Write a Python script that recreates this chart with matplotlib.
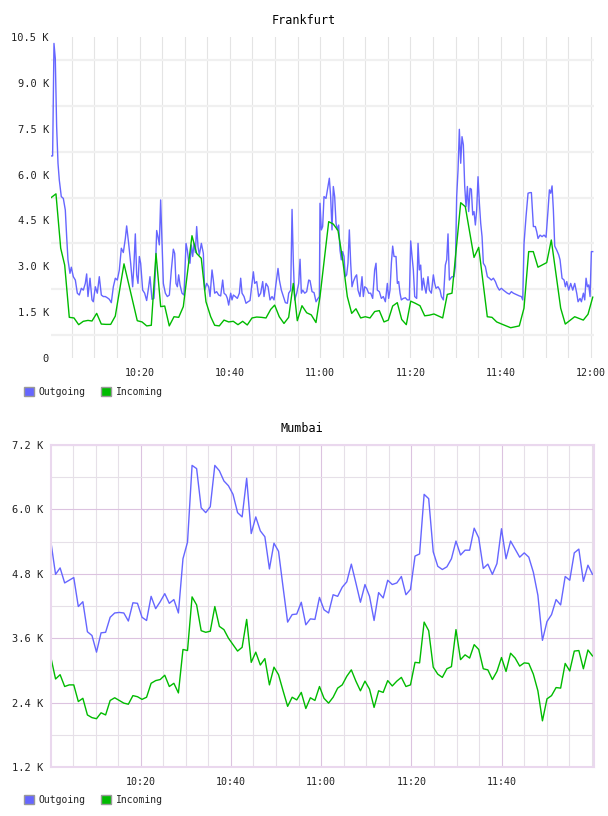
import numpy as np
import matplotlib
matplotlib.use('Agg')
import matplotlib.pyplot as plt
from matplotlib.patches import Patch
from matplotlib.ticker import FixedLocator, FuncFormatter, MultipleLocator

plt.rcParams['font.family'] = ['DejaVu Sans Mono']

# time axis: minutes after 10:00, values in K

# Frankfurt - outgoing
fra_out_t = [
    0.45, 0.74, 1.04, 1.33, 1.63, 1.93, 2.22, 2.66, 3.11, 3.55, 3.85, 4.14, 4.58, 4.88, 5.32,
    5.77, 6.21, 6.65, 7.10, 7.54, 7.98, 8.28, 8.57, 9.02, 9.46, 9.75, 10.20, 10.64, 11.08,
    11.53, 11.97, 12.41, 12.86, 13.30, 13.74, 14.19, 14.63, 15.07, 15.52, 15.96, 16.40, 16.85,
    17.14, 17.58, 18.03, 18.47, 18.77, 19.06, 19.36, 19.65, 19.95, 20.24, 20.69, 21.13, 21.57,
    22.02, 22.31, 22.75, 23.20, 23.49, 23.79, 24.08, 24.38, 24.67, 24.97, 25.27, 25.71, 26.15,
    26.60, 27.04, 27.48, 27.78, 28.07, 28.37, 28.66, 28.96, 29.40, 29.84, 30.29, 30.58, 30.88,
    31.17, 31.47, 31.77, 32.06, 32.36, 32.65, 32.95, 33.24, 33.69, 34.13, 34.42, 34.87, 35.31,
    35.61, 36.05, 36.34, 36.64, 37.08, 37.53, 37.97, 38.41, 38.71, 39.15, 39.45, 39.74, 40.19,
    40.48, 40.78, 41.22, 41.66, 42.11, 42.40, 42.70, 43.14, 43.58, 44.03, 44.47, 44.91, 45.21,
    45.50, 45.95, 46.39, 46.83, 47.28, 47.57, 48.01, 48.46, 48.90, 49.34, 49.79, 50.23, 50.67,
    50.97, 51.41, 51.86, 52.30, 52.74, 53.04, 53.48, 53.78, 54.07, 54.37, 54.81, 55.25, 55.55,
    55.84, 56.14, 56.58, 57.02, 57.47, 57.76, 58.21, 58.65, 59.09, 59.54, 59.83,
    59.97, 60.27, 60.56, 60.86, 61.30, 61.74, 62.04, 62.33, 62.63, 62.92, 63.22, 63.52, 63.81,
    64.11, 64.40, 64.70, 64.99, 65.29, 65.58, 65.88, 66.17, 66.47, 66.77, 67.06, 67.36, 67.80,
    68.09, 68.39, 68.83, 69.28, 69.57, 69.87, 70.31, 70.75, 71.20, 71.64, 72.08, 72.38, 72.67,
    73.12, 73.56, 74.00, 74.45, 74.89, 75.18, 75.48, 75.78, 76.07, 76.37, 76.81, 77.11, 77.40,
    77.70, 77.99, 78.44, 78.88, 79.32, 79.76, 80.06, 80.36, 80.65, 80.95, 81.39, 81.69, 81.98,
    82.28, 82.57, 82.87, 83.16, 83.46, 83.90, 84.20, 84.64, 85.08, 85.38, 85.67, 86.12, 86.56,
    86.86, 87.30, 87.74, 88.04, 88.33, 88.63, 88.92, 89.22, 89.66, 89.96, 90.25, 90.55, 90.84,
    91.14, 91.43, 91.73, 92.03, 92.32, 92.62, 92.91, 93.21, 93.50, 93.80, 94.09, 94.39, 94.68,
    94.98, 95.28, 95.57, 95.87, 96.16, 96.60, 97.05, 97.49, 97.93, 98.38, 98.82, 99.26, 99.71,
    100.15, 100.59, 101.04, 101.48, 101.92, 102.37, 102.81, 103.25, 103.70, 104.14, 104.58,
    104.88, 105.17, 105.61, 106.06, 106.50, 106.80, 107.24, 107.68, 107.98, 108.27, 108.72,
    109.16, 109.60, 110.05, 110.49, 110.79, 111.08, 111.38, 111.67, 111.97, 112.41, 112.86,
    113.15, 113.59, 114.04, 114.33, 114.63, 115.07, 115.51, 115.96, 116.40, 116.84, 117.14,
    117.58, 117.88, 118.32, 118.62, 118.91, 119.21, 119.50, 119.80, 120.09, 120.39,
]
fra_out = [
    6.61, 6.61, 10.29, 9.80, 7.57, 6.37, 5.82, 5.28, 5.22, 4.84, 3.97, 3.21, 2.77, 2.97, 2.66,
    2.55, 2.12, 2.06, 2.28, 2.22, 2.44, 2.75, 2.01, 2.61, 1.90, 1.84, 2.33, 2.12, 2.66,
    2.06, 2.01, 2.01, 1.97, 1.92, 1.81, 2.33, 2.61, 2.55, 2.88, 3.59, 3.45, 3.91,
    4.32, 3.75, 3.10, 2.33, 3.10, 4.06, 2.72, 2.44, 3.32, 3.10, 2.22, 2.12, 1.88,
    2.33, 2.66, 1.92, 1.95, 2.77, 4.17, 3.97, 3.70, 5.17, 3.75, 2.44, 2.12, 2.01,
    2.06, 2.88, 3.56, 3.42, 2.44, 2.33, 2.72, 2.39, 2.12, 2.06, 3.75, 3.53, 3.15,
    3.10, 3.70, 3.32, 3.75, 3.45, 4.30, 3.64, 3.37, 3.75, 3.42, 2.22, 2.44, 2.33,
    2.01, 2.88, 2.55, 2.12, 2.17, 2.06, 2.03, 2.55, 2.12, 2.06, 1.95, 1.73, 2.12,
    1.90, 2.06, 2.01, 1.95, 2.12, 2.61, 2.12, 2.01, 1.79, 1.84, 1.88, 2.44, 2.82,
    2.44, 2.50, 2.01, 2.12, 2.50, 2.01, 2.44, 2.33, 1.90, 2.01, 1.90, 2.44, 2.93,
    2.55, 2.22, 2.01, 1.81, 1.79, 2.12, 2.22, 4.86, 3.10, 1.90, 2.12, 2.44, 3.23,
    2.12, 2.22, 2.12, 2.17, 2.55, 2.53, 2.17, 2.14, 1.84, 1.95, 2.01,
    5.06, 4.19, 4.30, 5.28, 5.22, 5.61, 5.88, 5.28, 4.19, 5.61, 5.28, 4.41, 4.19,
    4.35, 3.53, 3.21, 3.48, 3.32, 2.66, 2.72, 3.10, 4.19, 3.10, 2.33, 2.50, 2.66,
    2.72, 2.22, 2.01, 2.66, 2.01, 2.33, 2.28, 2.12, 2.12, 1.95, 2.88, 3.10, 2.22,
    2.17, 1.95, 2.01, 1.84, 2.44, 1.95, 2.22, 3.10, 3.66, 3.32, 3.32, 2.44, 2.50,
    2.12, 1.90, 1.95, 1.97, 1.90, 1.90, 3.83, 3.32, 2.88, 2.01, 1.95, 3.75, 2.88,
    3.04, 2.22, 2.61, 2.33, 2.12, 2.66, 2.22, 2.12, 2.72, 2.44, 2.28, 2.33, 2.22,
    2.01, 1.90, 3.04, 3.21, 4.06, 2.55, 2.61, 2.66, 2.66, 2.99, 5.28, 6.15, 7.48,
    6.37, 7.24, 6.97, 5.61, 4.95, 5.61, 4.79, 5.55, 5.52, 4.68, 4.79, 4.35, 4.84,
    5.93, 5.06, 4.41, 3.97, 3.10, 2.99, 2.66, 2.61, 2.55, 2.61, 2.50, 2.33, 2.22,
    2.28, 2.22, 2.17, 2.12, 2.09, 2.17, 2.12, 2.09, 2.06, 2.03, 2.01,
    1.90, 3.75, 4.62, 5.39, 5.41, 5.41, 4.30, 4.30, 4.13, 3.91, 4.02,
    3.97, 4.02, 3.95, 4.84, 5.50, 5.39, 5.63, 4.84, 3.66, 3.53, 3.37,
    3.21, 2.61, 2.55, 2.33, 2.50, 2.22, 2.44, 2.22, 2.44, 2.12, 1.84,
    1.95, 1.84, 2.12, 1.90, 2.61, 2.33, 2.39, 2.01, 3.48, 3.48,
]

# Frankfurt - incoming
fra_in_t = [
    0.44, 1.48, 2.53, 3.41, 4.43, 5.47, 6.51, 7.53, 8.57, 9.46, 10.50, 11.52, 12.56, 13.60,
    14.62, 16.55, 19.49, 20.54, 21.58, 22.60, 23.64, 24.68, 25.57, 26.58, 27.63, 28.67, 29.69,
    31.61, 32.65, 33.67, 34.71, 35.76, 36.64, 37.66, 38.70, 39.74, 40.76, 41.80, 42.84, 43.86,
    44.91, 45.95, 46.97, 48.01, 49.05, 49.93, 50.95, 51.99, 53.03, 54.05, 54.94, 55.98, 57.02,
    58.04, 59.08, 59.97, 61.90, 62.92, 63.96, 65.00, 66.02, 66.99, 67.94, 68.98, 70.00, 71.05,
    72.09, 73.11, 74.15, 75.10, 76.07, 77.09, 78.07, 79.09, 80.06, 81.08, 82.12, 83.16, 84.18,
    85.22, 86.26, 87.15, 88.17, 89.21, 91.14, 92.16, 94.09, 95.13, 97.03, 98.07, 99.11,
    100.22, 102.21, 104.12, 105.16, 106.20, 107.22, 108.26, 110.19, 111.21, 113.29, 114.31,
    116.39, 118.30, 119.34, 120.39,
]
fra_in = [
    5.25, 5.37, 3.59, 3.04, 1.33, 1.31, 1.09, 1.20, 1.23, 1.21, 1.46, 1.11, 1.10, 1.10,
    1.37, 3.08, 1.22, 1.18, 1.05, 1.07, 3.42, 1.68, 1.70, 1.05, 1.35, 1.33, 1.68,
    4.00, 3.42, 3.26, 1.84, 1.35, 1.07, 1.05, 1.24, 1.18, 1.20, 1.09, 1.20, 1.08,
    1.31, 1.34, 1.33, 1.31, 1.59, 1.73, 1.35, 1.13, 1.33, 2.44, 1.22, 1.71, 1.48,
    1.41, 1.16, 2.01, 4.46, 4.38, 4.17, 3.21, 2.01, 1.46, 1.61, 1.31, 1.35, 1.31,
    1.52, 1.55, 1.18, 1.24, 1.70, 1.81, 1.26, 1.09, 1.86, 1.79, 1.71, 1.38, 1.40,
    1.44, 1.37, 1.31, 2.08, 2.12, 5.08, 4.95, 3.29, 3.62, 1.35, 1.33, 1.18,
    1.11, 0.99, 1.05, 1.63, 3.48, 3.48, 2.97, 3.12, 3.86, 1.63, 1.11,
    1.35, 1.24, 1.43, 1.99,
]

# Mumbai - one sample roughly every minute starting 10:00:08
mum_start_s = 8
mum_step_s = 60.5
mum_out = [
    5.38, 4.79, 4.91, 4.63, 4.68, 4.73, 4.19, 4.28, 3.72, 3.65, 3.34, 3.70, 3.71, 3.99, 4.07,
    4.08, 4.07, 3.92, 4.26, 4.25, 3.99, 3.93, 4.38, 4.15, 4.28, 4.43, 4.25, 4.32, 4.07, 5.08,
    5.39, 6.82, 6.76, 6.03, 5.94, 6.05, 6.82, 6.72, 6.53, 6.44, 6.28, 5.94, 5.86, 6.58, 5.55,
    5.86, 5.60, 5.49, 4.89, 5.37, 5.22, 4.55, 3.90, 4.04, 4.05, 4.27, 3.85, 3.96, 3.95, 4.36,
    4.13, 4.07, 4.41, 4.38, 4.55, 4.65, 4.98, 4.63, 4.27, 4.60, 4.38, 3.93, 4.45, 4.35, 4.68,
    4.60, 4.63, 4.75, 4.41, 4.51, 5.13, 5.17, 6.28, 6.20, 5.21, 4.94, 4.88, 4.93, 5.08, 5.41,
    5.15, 5.24, 5.24, 5.65, 5.47, 4.90, 4.98, 4.79, 4.99, 5.64, 5.08, 5.41, 5.26, 5.11, 5.19,
    5.11, 4.83, 4.40, 3.56, 3.91, 4.04, 4.32, 4.22, 4.75, 4.68, 5.19, 5.26, 4.66, 4.96, 4.79,
]
mum_in = [
    3.23, 2.84, 2.92, 2.70, 2.73, 2.73, 2.42, 2.48, 2.17, 2.12, 2.10, 2.21, 2.17, 2.44, 2.49,
    2.44, 2.39, 2.37, 2.53, 2.51, 2.46, 2.50, 2.76, 2.81, 2.83, 2.91, 2.70, 2.76, 2.58, 3.39,
    3.37, 4.37, 4.22, 3.74, 3.71, 3.73, 4.19, 3.82, 3.76, 3.60, 3.48, 3.36, 3.43, 3.95, 3.15,
    3.34, 3.10, 3.22, 2.73, 3.06, 2.92, 2.62, 2.33, 2.50, 2.45, 2.59, 2.29, 2.49, 2.44, 2.70,
    2.48, 2.39, 2.50, 2.67, 2.73, 2.89, 3.01, 2.80, 2.62, 2.80, 2.65, 2.31, 2.62, 2.59, 2.81,
    2.71, 2.80, 2.87, 2.70, 2.73, 3.15, 3.14, 3.90, 3.74, 3.06, 2.93, 2.87, 3.03, 3.07, 3.76,
    3.20, 3.29, 3.23, 3.48, 3.39, 3.03, 3.01, 2.83, 2.98, 3.24, 2.98, 3.32, 3.23, 3.08, 3.14,
    3.13, 2.93, 2.62, 2.06, 2.47, 2.53, 2.68, 2.67, 3.13, 2.99, 3.36, 3.37, 3.03, 3.38, 3.27,
]
mum_t = (mum_start_s + mum_step_s * np.arange(len(mum_out))) / 60.0

OUT_COLOR = '#6666ff'
IN_COLOR = '#00bb00'
TEXT = '#222222'


def hhmm(t, pos=None):
    t = int(round(t))
    return '%d:%02d' % (10 + t // 60, t % 60)


def kilo(v, pos=None):
    if abs(v) < 1e-9:
        return '0'
    return '%.1f K' % v


def add_legend(fig, y_px):
    handles = [Patch(facecolor=OUT_COLOR, edgecolor='#999999', lw=1, label='Outgoing'),
               Patch(facecolor=IN_COLOR, edgecolor='#999999', lw=1, label='Incoming')]
    fig.legend(handles=handles, loc='center left',
               bbox_to_anchor=(24 / 608, 1 - y_px / 816), ncol=2, frameon=False,
               fontsize=7, handlelength=1.0, handleheight=1.0, handletextpad=0.5,
               columnspacing=1.6, borderpad=0, borderaxespad=0, labelcolor=TEXT)


fig = plt.figure(figsize=(6.08, 8.16), dpi=100)

# Frankfurt
ax1 = fig.add_axes([51 / 608, 1 - 358 / 816, 543 / 608, 321 / 816])
ax1.set_xlim(0.38, 120.67)
ax1.set_ylim(0, 10.5)
for s in ax1.spines.values():
    s.set_visible(False)
ax1.xaxis.set_major_locator(FixedLocator([20, 40, 60, 80, 100, 120]))
ax1.xaxis.set_minor_locator(MultipleLocator(5))
ax1.xaxis.set_major_formatter(FuncFormatter(hhmm))
ax1.yaxis.set_major_locator(MultipleLocator(1.5))
ax1.yaxis.set_minor_locator(FixedLocator(np.arange(0.75, 10.5, 1.5)))
ax1.yaxis.set_major_formatter(FuncFormatter(kilo))
ax1.grid(which='both', axis='x', color='#e4e4e4', lw=0.8)
ax1.grid(which='minor', axis='y', color='#f0f0f0', lw=1.6)
ax1.grid(which='major', axis='y', visible=False)
ax1.tick_params(which='both', length=0, colors=TEXT)
ax1.tick_params(axis='y', pad=1.5, labelsize=7.5)
ax1.tick_params(axis='x', pad=7, labelsize=7.2)
ax1.set_axisbelow(True)
ax1.plot(fra_out_t, fra_out, color=OUT_COLOR, lw=1.0)
ax1.plot(fra_in_t, fra_in, color=IN_COLOR, lw=1.0)
fig.text(304 / 608, 1 - 20 / 816, 'Frankfurt', ha='center', va='center', fontsize=8.5)
add_legend(fig, 392)

# Mumbai
ax2 = fig.add_axes([50.5 / 608, 1 - 767 / 816, 543.5 / 608, 322 / 816])
ax2.set_xlim(0.02, 120.46)
ax2.set_ylim(1.2, 7.2)
for s in ax2.spines.values():
    s.set_color('#ead8ee')
    s.set_linewidth(1.5)
ax2.xaxis.set_major_locator(FixedLocator([20, 40, 60, 80, 100]))
ax2.xaxis.set_minor_locator(MultipleLocator(5))
ax2.xaxis.set_major_formatter(FuncFormatter(hhmm))
ax2.yaxis.set_major_locator(MultipleLocator(1.2))
ax2.yaxis.set_minor_locator(FixedLocator(np.arange(1.8, 7.2, 1.2)))
ax2.yaxis.set_major_formatter(FuncFormatter(kilo))
ax2.grid(which='major', color='#dcc3e0', lw=0.8)
ax2.grid(which='minor', color='#e6e0e8', lw=0.8)
ax2.tick_params(which='both', length=0, colors=TEXT)
ax2.tick_params(axis='y', pad=5, labelsize=7.5)
ax2.tick_params(axis='x', pad=7, labelsize=7.2)
ax2.set_axisbelow(True)
ax2.plot(mum_t, mum_out, color=OUT_COLOR, lw=1.0)
ax2.plot(mum_t, mum_in, color=IN_COLOR, lw=1.0)
fig.text(302 / 608, 1 - 429 / 816, 'Mumbai', ha='center', va='center', fontsize=8.5)
add_legend(fig, 800)

fig.savefig('out.png', dpi=100, facecolor='white')
